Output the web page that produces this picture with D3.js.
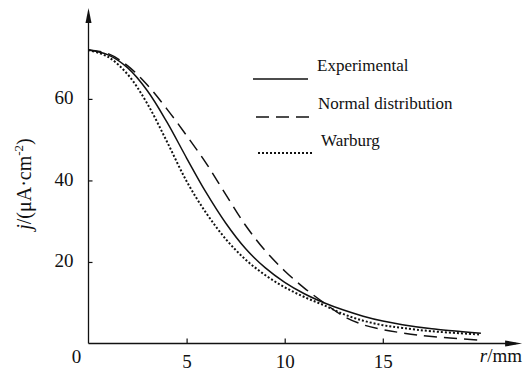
<!DOCTYPE html>
<html>
<head>
<meta charset="utf-8">
<script src="https://cdn.jsdelivr.net/npm/d3@7"></script>
</head>
<body style="margin:0">
<script>
const width = 523,
  height = 372,
  serif = "Liberation Serif";

// r / mm and j / (uA cm^-2)
const expR = [0, 1, 2, 3, 4, 5, 6, 7, 8, 9, 10, 11, 12, 13, 14, 15, 16, 17.5, 20];
const expJ = [72, 70.8, 67.6, 62, 54.3, 45.5, 37, 29.5, 23.3, 18.6, 15, 12.2, 10, 8.2, 6.7, 5.5, 4.6, 3.6, 2.5];

const normR = [0, 1, 2, 3, 4, 5, 6, 7, 8, 9, 10, 11, 12, 13, 14, 15, 16, 17.5, 20];
const normJ = [72, 71.1, 68.1, 63.4, 57.5, 51, 44.2, 36.5, 29, 22.8, 17.8, 13.6, 10, 6.7, 4.6, 3.4, 2.6, 1.7, 0.8];

const warR = [0, 1, 2, 3, 4, 5, 6, 7, 8, 9, 10, 11, 12, 13, 14, 15, 16, 17.5, 20];
const warJ = [72, 70.3, 66, 58.8, 49.5, 39.8, 32, 25.6, 20.6, 16.8, 13.8, 11.4, 9.4, 7.2, 5.6, 4.5, 3.8, 3.0, 2.2];

const xTicks = [5, 10, 15];
const yTicks = [20, 40, 60];
const legendNames = ["Experimental", "Normal distribution", "Warburg"];

const zip = (rs, js) => rs.map((r, i) => ({ r: r, j: js[i] }));
const series = [
  { name: legendNames[0], values: zip(expR, expJ), dash: null, w: 1.5 },
  { name: legendNames[1], values: zip(normR, normJ), dash: "13,7", w: 1.5 },
  { name: legendNames[2], values: zip(warR, warJ), dash: "2,2", w: 2 },
];

const xScale = d3.scaleLinear().domain([0, 20]).range([88.5, 480.9]);
const yScale = d3.scaleLinear().domain([0, 82.3]).range([343.5, 8]);

const svg = d3
  .select("body")
  .append("svg")
  .attr("width", width)
  .attr("height", height)
  .attr("font-family", serif);

// axes (ticks pointing inward)
const xAxis = d3.axisBottom(xScale).tickValues(xTicks).tickSizeInner(-5).tickSizeOuter(0).tickPadding(11);
const yAxis = d3.axisLeft(yScale).tickValues(yTicks).tickSizeInner(-4).tickSizeOuter(0).tickPadding(15);

const gx = svg.append("g")
  .attr("transform", `translate(0,${yScale(0)})`)
  .call(xAxis);
const gy = svg.append("g")
  .attr("transform", `translate(${xScale(0)},0)`)
  .call(yAxis);

[gx, gy].forEach(g => {
  g.attr("font-family", serif).attr("font-size", 19);
  g.select(".domain").remove();
  g.selectAll(".tick line").attr("stroke", "#111").attr("stroke-width", 1.2);
  g.selectAll(".tick text").attr("fill", "#111");
});
gy.selectAll(".tick text").attr("dy", "0.25em");

// axis lines with arrow heads
const x0 = xScale(0), y0 = yScale(0);
const xEnd = xScale(22.1), yEnd = yScale(82.3);
svg.append("line").attr("x1", x0).attr("y1", y0).attr("x2", xEnd - 6).attr("y2", y0)
  .attr("stroke", "#111").attr("stroke-width", 1.3);
svg.append("line").attr("x1", x0).attr("y1", y0).attr("x2", x0).attr("y2", yEnd + 6)
  .attr("stroke", "#111").attr("stroke-width", 1.3);
svg.append("path")
  .attr("d", `M${xEnd},${y0} L${xEnd - 17},${y0 - 3} L${xEnd - 17},${y0 + 3} Z`)
  .attr("fill", "#111");
svg.append("path")
  .attr("d", `M${x0},${yEnd} L${x0 - 3},${yEnd + 15} L${x0 + 3},${yEnd + 15} Z`)
  .attr("fill", "#111");

// origin label and axis titles
svg.append("text").attr("x", 76.5).attr("y", 363).attr("text-anchor", "middle")
  .attr("font-size", 19).attr("fill", "#111").text("0");

const xt = svg.append("text").attr("x", 522).attr("y", 362).attr("text-anchor", "end")
  .attr("font-size", 19).attr("fill", "#111");
xt.append("tspan").attr("font-style", "italic").text("r");
xt.append("tspan").text("/mm");

const yt = svg.append("text")
  .attr("transform", "translate(31,184) rotate(-90)")
  .attr("text-anchor", "middle")
  .attr("font-size", 20)
  .attr("fill", "#111");
yt.append("tspan").attr("font-style", "italic").text("j");
yt.append("tspan").text("/(μA·cm");
yt.append("tspan").attr("font-size", 13).attr("dy", -8).text("-2");
yt.append("tspan").attr("dy", 8).text(")");

// curves
const line = d3.line()
  .x(d => xScale(d.r))
  .y(d => yScale(d.j))
  .curve(d3.curveCatmullRom);

svg.selectAll("path.curve")
  .data(series)
  .join("path")
  .attr("class", "curve")
  .attr("fill", "none")
  .attr("stroke", "#111")
  .attr("stroke-width", d => d.w)
  .attr("stroke-dasharray", d => d.dash)
  .attr("d", d => line(d.values));

// legend
const legendPos = [
  { x1: 253, x2: 308, y: 79, tx: 317, ty: 71 },
  { x1: 256, x2: 311, y: 117, tx: 318, ty: 109 },
  { x1: 258, x2: 313, y: 153, tx: 321, ty: 146 },
];
const lg = svg.append("g").selectAll("g")
  .data(series)
  .join("g");
lg.append("line")
  .attr("x1", (d, i) => legendPos[i].x1)
  .attr("x2", (d, i) => legendPos[i].x2)
  .attr("y1", (d, i) => legendPos[i].y)
  .attr("y2", (d, i) => legendPos[i].y)
  .attr("stroke", "#111")
  .attr("stroke-width", d => d.w)
  .attr("stroke-dasharray", d => d.dash);
lg.append("text")
  .attr("x", (d, i) => legendPos[i].tx)
  .attr("y", (d, i) => legendPos[i].ty)
  .attr("font-size", 17)
  .attr("fill", "#111")
  .text(d => d.name);
</script>
</body>
</html>
